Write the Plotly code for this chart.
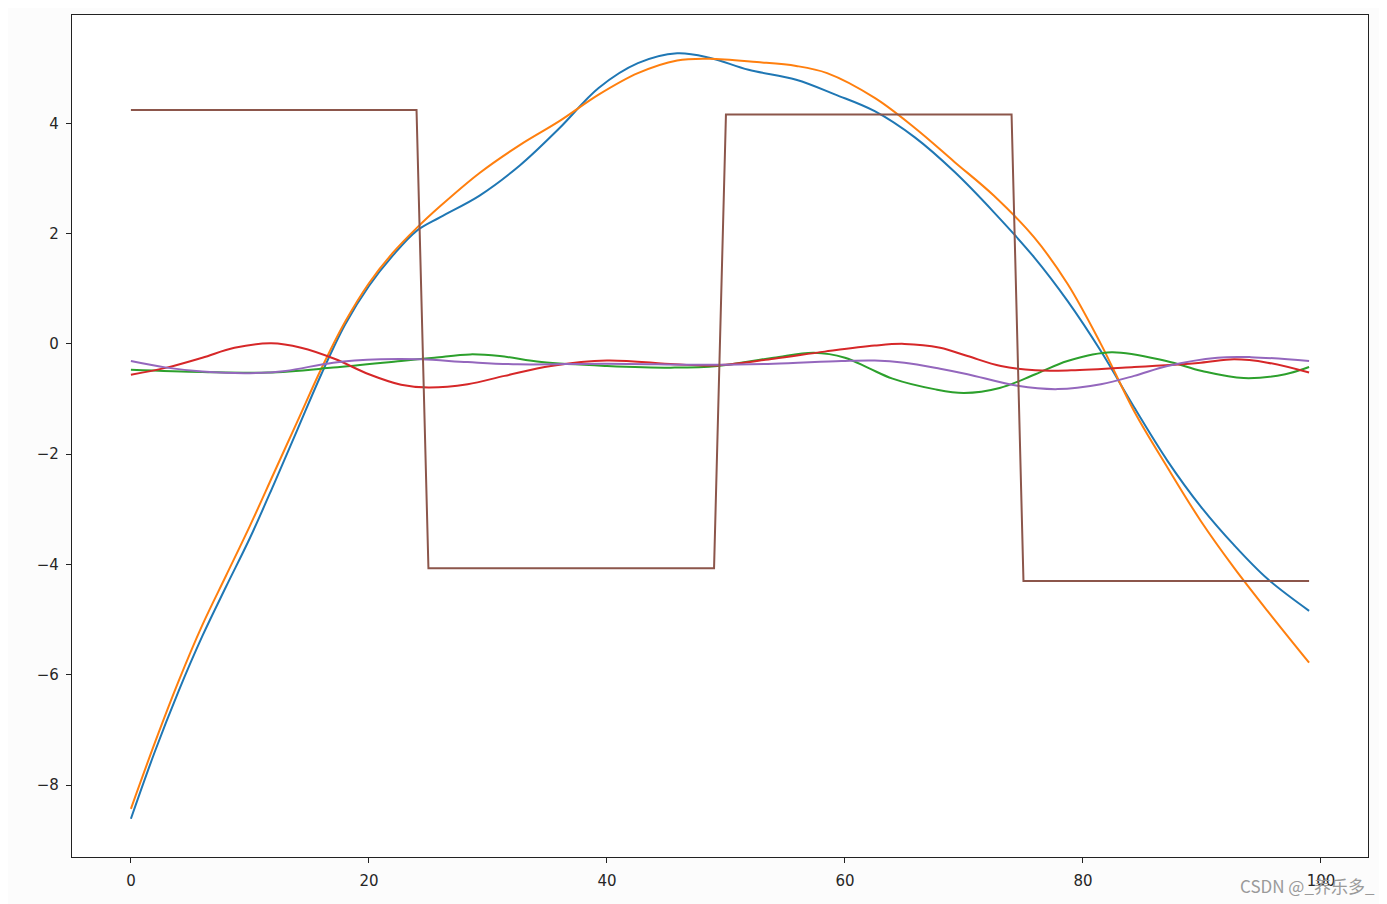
import plotly.graph_objects as go

# ---- data ----
blue_x = [0, 2, 4, 6, 8, 10, 12, 14, 16, 18, 20, 22, 24, 26, 29.3, 32.7, 36, 39.3, 42.6, 45.9,
          48.6, 51.9, 55.9, 59.2, 62.5, 65.9, 69.2, 72.5, 75.9, 78.7, 81.5, 84.3, 87.1, 89.9,
          92.7, 95.5, 99]
blue_y = [-8.61, -7.40, -6.30, -5.30, -4.40, -3.52, -2.55, -1.55, -0.55, 0.35, 1.05, 1.60, 2.05,
          2.30, 2.69, 3.24, 3.91, 4.64, 5.09, 5.27, 5.19, 4.97, 4.79, 4.52, 4.22, 3.74, 3.12,
          2.39, 1.57, 0.78, -0.13, -1.15, -2.12, -2.95, -3.65, -4.26, -4.84]

orange_x = [0, 2, 4, 6, 8, 10, 12, 14, 16, 18, 20, 22, 24, 26, 29.3, 32.7, 36, 39.3, 42.6, 45.9,
            48.6, 52.6, 55.9, 58.5, 62.5, 65.9, 69.2, 72.5, 75.9, 78.7, 81.5, 84.3, 87.1, 89.9,
            92.7, 95.5, 99]
orange_y = [-8.43, -7.24, -6.12, -5.10, -4.20, -3.30, -2.35, -1.40, -0.45, 0.40, 1.10, 1.65, 2.10,
            2.50, 3.10, 3.61, 4.04, 4.52, 4.91, 5.14, 5.17, 5.11, 5.04, 4.91, 4.46, 3.91, 3.30,
            2.69, 1.93, 1.09, 0.00, -1.22, -2.24, -3.21, -4.06, -4.84, -5.78]

green_x = [0, 6, 11.5, 17, 22.7, 25.5, 28.5, 31, 34.5, 40, 45.7, 49.3, 54, 57.4, 60, 62, 64,
           67.5, 70, 73, 76, 78.7, 82.4, 87, 90, 93.5, 97, 99]
green_y = [-0.47, -0.51, -0.52, -0.43, -0.31, -0.25, -0.19, -0.22, -0.33, -0.40, -0.43, -0.40,
           -0.25, -0.16, -0.25, -0.44, -0.63, -0.82, -0.89, -0.80, -0.55, -0.31, -0.15, -0.31,
           -0.49, -0.62, -0.55, -0.42]

red_x = [0, 3, 6, 8.7, 11.8, 14.3, 17.1, 20, 22.7, 25, 28.3, 31.4, 35.3, 40, 45.7, 49.3, 54,
         58.3, 62.5, 65, 68, 70.3, 73.1, 76, 79, 84.3, 89.9, 92.7, 95.5, 99]
red_y = [-0.56, -0.43, -0.25, -0.07, 0.01, -0.07, -0.27, -0.55, -0.74, -0.79, -0.73, -0.58,
         -0.40, -0.30, -0.37, -0.39, -0.27, -0.14, -0.03, 0.00, -0.07, -0.22, -0.40, -0.48,
         -0.48, -0.42, -0.34, -0.28, -0.34, -0.52]

purple_x = [0, 3, 6, 10, 13, 17, 21, 24.4, 28.3, 32.5, 40, 49, 54, 59.7, 62.5, 65, 68, 70.3,
            74.5, 77.9, 81.5, 84.3, 87.1, 91.3, 94.1, 99]
purple_y = [-0.31, -0.43, -0.50, -0.53, -0.49, -0.34, -0.28, -0.28, -0.33, -0.37, -0.36, -0.38,
            -0.36, -0.31, -0.30, -0.34, -0.45, -0.55, -0.76, -0.82, -0.73, -0.58, -0.40, -0.25,
            -0.24, -0.31]

brown_x = [0, 24, 25, 49, 50, 74, 75, 99]
brown_y = [4.24, 4.24, -4.07, -4.07, 4.16, 4.16, -4.30, -4.30]

x_ticks = [0, 20, 40, 60, 80, 100]
y_ticks = [-8, -6, -4, -2, 0, 2, 4]

series = [
    (blue_x, blue_y, "#1f77b4", "spline"),
    (orange_x, orange_y, "#ff7f0e", "spline"),
    (green_x, green_y, "#2ca02c", "spline"),
    (red_x, red_y, "#d62728", "spline"),
    (purple_x, purple_y, "#9467bd", "spline"),
    (brown_x, brown_y, "#8c564b", "linear"),
]

fig = go.Figure()
for xs, ys, col, shape in series:
    line = dict(color=col, width=2, shape=shape)
    if shape == "spline":
        line["smoothing"] = 1.0
    fig.add_trace(go.Scatter(x=xs, y=ys, mode="lines", line=line,
                             showlegend=False, hoverinfo="skip"))

all_y = blue_y + orange_y + green_y + red_y + purple_y + brown_y
ymin, ymax = min(all_y), max(all_y)
pad = 0.05 * (ymax - ymin)

axis_common = dict(showline=True, linecolor="#222222", linewidth=1.3, mirror=True,
                   ticks="outside", ticklen=5, tickwidth=1, tickcolor="#222222",
                   showgrid=False, zeroline=False,
                   tickfont=dict(family="DejaVu Sans", size=15, color="#262626"))

# page body has an 8px default margin, so the figure is sized/offset to compensate
fig.update_layout(
    width=1379, height=896,
    margin=dict(l=64, r=19, t=7, b=47),
    paper_bgcolor="#fcfcfc", plot_bgcolor="#ffffff",
    xaxis=dict(range=[-4.95, 103.95], tickvals=x_ticks, ticklabelstandoff=5, **axis_common),
    yaxis=dict(range=[ymin - pad, ymax + pad], tickvals=y_ticks, ticklabelstandoff=4,
               **axis_common),
    annotations=[dict(text="CSDN @_养乐多_", xref="paper", yref="paper",
                      x=1.0073, y=-0.0344, xanchor="right", yanchor="middle",
                      showarrow=False,
                      font=dict(family="Noto Sans CJK SC", size=17, color="#9a9a9a"))],
)

fig.write_html("out.html")
